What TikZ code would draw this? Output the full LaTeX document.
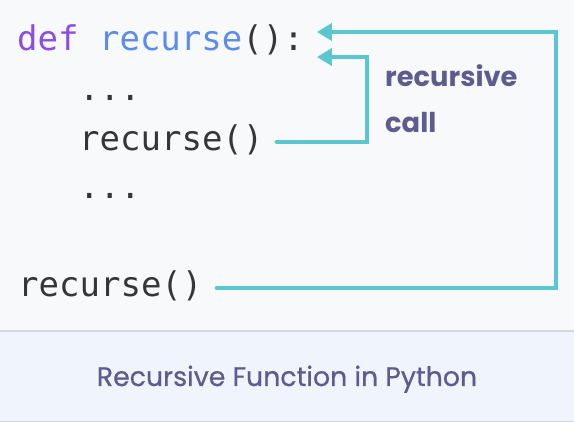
\documentclass[tikz,border=0pt]{standalone}
\usepackage{fontspec}
\setmainfont{Poppins}
\newfontfamily\codefont{DejaVu Sans Mono}
\newfontfamily\capfont[FakeBold=0.6]{Poppins}
\usetikzlibrary{arrows.meta}
\definecolor{tealc}{HTML}{5BC5D0}
\definecolor{defpurple}{HTML}{8A4DE6}
\definecolor{fnblue}{HTML}{5B8CEC}
\definecolor{codegray}{HTML}{363636}
\definecolor{labc}{HTML}{5E5C8E}
\definecolor{bgtop}{HTML}{F8F9FB}
\definecolor{bandc}{HTML}{F0F4FC}
\definecolor{sepc}{HTML}{D4DAE3}
\begin{document}
\begin{tikzpicture}[x=1pt,y=-1pt,
  code/.style={anchor=base west, inner sep=0pt, font=\codefont\fontsize{34}{34}\selectfont, text=codegray},
  lab/.style={anchor=base west, inner sep=0pt, font=\bfseries\fontsize{27.3}{27.3}\selectfont, text=labc},
  captext/.style={anchor=base, inner sep=0pt, font=\capfont\fontsize{26.8}{26.8}\selectfont, text=labc},
  conn/.style={draw=tealc, line width=4pt, line cap=round, line join=miter, -{Triangle[length=15pt,width=17pt]}}]
\useasboundingbox (0,0) rectangle (574,422);
\fill[bgtop] (0,0) rectangle (574,331);
\fill[bandc] (0,331) rectangle (574,422);
\draw[sepc, line width=2pt] (0,331) -- (574,331);
\draw[sepc, line width=1.5pt] (0,421.5) -- (574,421.5);
\node[code] (l1) at (17,51) {\textcolor{defpurple}{def} \textcolor{fnblue}{recurse}():};
\node[code] (l2) at (79,101) {...};
\node[code] (l3) at (79,151) {recurse()};
\node[code] (l4) at (79,199) {...};
\node[code] (l5) at (18,297) {recurse()};
\node[lab] (rc) at (385,87) {recursive};
\node[lab] (cl) at (385,133) {call};
\node[captext] (capt) at (287,386) {Recursive Function in Python};
\coordinate (outer) at (556,32);
\coordinate (inner) at (367,57);
\draw[conn] ([xshift=14pt,yshift=9pt]l5.base east) -| (outer) -- ([xshift=13pt,yshift=19pt]l1.base east);
\draw[conn] ([xshift=13pt,yshift=9pt]l3.base east) -| (inner) -- ([xshift=13pt,yshift=-6pt]l1.base east);
\end{tikzpicture}
\end{document}
